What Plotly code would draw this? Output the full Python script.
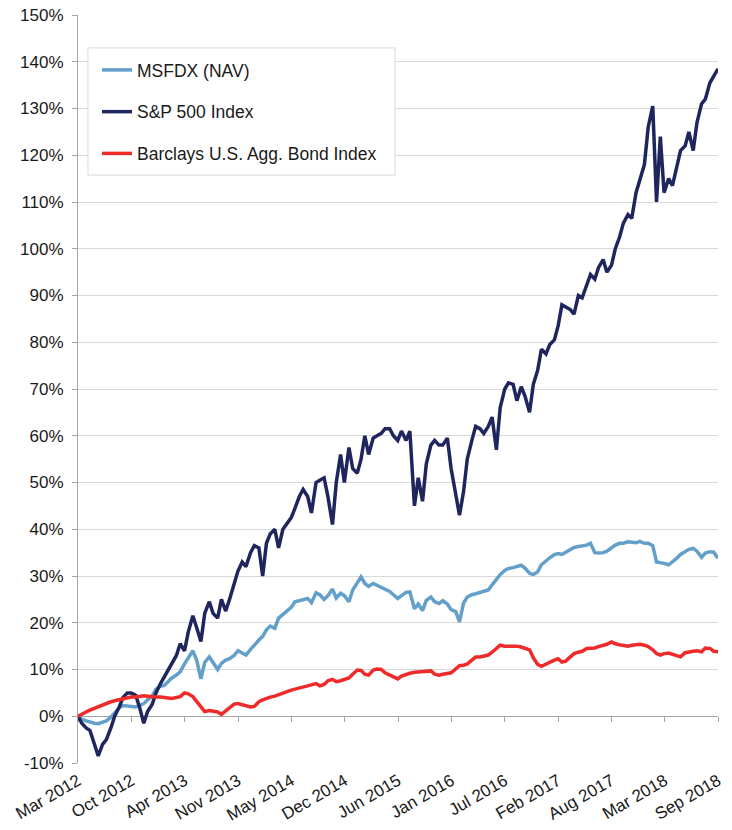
import pandas as pd
import plotly.graph_objects as go

# ---- data (cumulative return, %), semi-monthly observations ----
start_date = "2012-04-01"
n_points = 157
dates = pd.date_range(start_date, periods=n_points, freq="SMS")

msfdx = [
    0, -0.6, -1.0, -1.3, -1.5, -1.6, -1.3, -1.0, -0.2, 0.8,
    1.8, 2.3, 2.2, 2.0, 2.0, 2.3, 2.7, 3.5, 4.3, 5.8,
    6.4, 6.6, 7.4, 8.2, 8.8, 9.5, 11.2, 12.5, 14.0, 12.0,
    8.0, 11.5, 12.7, 11.5, 10.0, 11.3, 12.0, 12.3, 13.0, 14.0,
    13.5, 13.1, 14.3, 15.3, 16.3, 17.1, 18.5, 19.3, 18.8, 21.0,
    21.8, 22.4, 23.3, 24.5, 24.8, 25.0, 25.2, 24.3, 26.4, 26.0,
    25.0, 25.8, 27.2, 25.3, 26.3, 25.8, 24.5, 27.0, 28.5, 29.8,
    28.4, 27.8, 28.4, 28.0, 27.7, 27.2, 26.7, 26.0, 25.2, 25.8,
    26.5, 26.6, 23.0, 24.0, 22.6, 24.8, 25.5, 24.5, 24.1, 24.7,
    24.0, 22.8, 22.4, 20.2, 24.2, 25.5, 26.0, 26.2, 26.5, 26.7,
    27.0, 28.1, 29.3, 30.3, 31.2, 31.6, 31.8, 32.1, 32.3, 31.7,
    30.6, 30.3, 30.9, 32.4, 33.3, 33.9, 34.6, 34.8, 34.6, 35.1,
    35.7, 36.1, 36.3, 36.4, 36.6, 37.0, 35.0, 34.9, 35.0, 35.3,
    36.0, 36.6, 37.0, 37.0, 37.3, 37.2, 37.1, 37.4, 37.0, 37.0,
    36.5, 33.0, 32.9, 32.7, 32.4, 33.0, 33.8, 34.6, 35.2, 35.7,
    35.9, 35.3, 34.0, 34.9, 35.2, 35.1, 33.8,
]

sp500 = [
    0, -1.5, -2.5, -3.0, -6.0, -8.5, -6.0, -5.0, -2.5, 0.0,
    2.0, 4.0, 5.0, 5.0, 4.5, 2.0, -1.5, 1.0, 2.5, 5.0,
    7.0, 8.5, 10.0, 11.5, 13.0, 15.5, 14.0, 18.0, 21.5, 19.0,
    16.0, 22.0, 24.5, 22.0, 21.0, 25.0, 22.5, 25.0, 28.5, 31.0,
    33.0, 32.0, 35.0, 36.5, 36.0, 30.0, 37.0, 39.0, 40.0, 36.0,
    40.0, 41.0, 42.5, 44.5, 47.0, 48.5, 47.0, 43.5, 50.0, 50.5,
    51.0, 47.0, 41.0, 50.0, 56.0, 50.0, 57.5, 53.0, 52.0, 55.0,
    60.0, 56.0, 59.5, 60.0, 60.5, 61.5, 61.5, 60.0, 59.0, 61.0,
    59.0, 61.0, 45.0, 51.0, 46.0, 54.0, 58.0, 59.0, 58.0, 58.0,
    59.5, 53.0, 47.0, 43.0, 48.0, 55.0, 59.0, 62.0, 61.5, 60.5,
    62.0, 64.0, 57.0, 66.0, 70.0, 71.3, 71.0, 67.5, 70.5, 68.5,
    65.0, 71.0, 74.0, 78.5, 77.5, 79.5, 80.5, 83.5, 88.0, 87.5,
    87.0, 86.0, 90.0, 89.5, 92.0, 94.5, 93.5, 96.0, 97.7, 95.0,
    96.5, 100.0, 102.5, 105.5, 107.3, 106.5, 112.0, 115.0, 118.0, 126.0,
    130.5, 110.0, 124.0, 112.0, 115.0, 113.5, 117.5, 121.0, 122.0, 125.0,
    121.0, 127.0, 131.0, 132.0, 135.5, 137.0, 138.5,
]

barclays = [
    0, 0.5, 0.9, 1.3, 1.7, 2.0, 2.4, 2.8, 3.1, 3.3,
    3.5, 3.8, 4.0, 4.1, 4.1, 4.2, 4.4, 4.3, 4.1, 4.1,
    4.1, 4.0, 3.9, 3.8, 4.0, 4.2, 5.0, 4.8, 4.2, 3.2,
    1.8, 1.0, 1.2, 1.1, 0.9, 0.4, 1.2, 1.8, 2.6, 2.7,
    2.5, 2.2, 2.0, 2.1, 3.1, 3.5, 3.9, 4.1, 4.3, 4.6,
    5.1, 5.4, 5.6, 5.8, 6.0, 6.2, 6.4, 6.7, 7.0, 6.5,
    6.8, 7.6, 7.9, 7.4, 7.6, 7.8, 8.2, 9.0, 9.9, 9.8,
    9.0, 8.8, 9.9, 10.1, 10.0, 9.3, 8.8, 8.3, 8.0, 8.6,
    9.0, 9.2, 9.4, 9.5, 9.5, 9.7, 9.7, 9.0, 8.8, 9.0,
    9.1, 9.3, 10.1, 10.8, 10.9, 11.2, 12.0, 12.7, 12.7, 12.8,
    13.1, 13.7, 14.5, 15.2, 15.0, 15.0, 15.0, 15.0, 14.8, 14.6,
    14.2, 12.5, 11.1, 10.7, 11.2, 11.7, 12.0, 12.3, 11.6, 11.8,
    12.6, 13.4, 13.7, 13.9, 14.5, 14.5, 14.6, 14.9, 15.1, 15.4,
    15.9, 15.5, 15.3, 15.1, 15.0, 15.2, 15.4, 15.4, 15.2, 14.9,
    14.2, 13.4, 13.1, 13.4, 13.5, 13.3, 13.0, 12.7, 13.6, 13.8,
    13.9, 14.0, 13.8, 14.6, 14.5, 13.9, 13.8,
]

series_names = ["MSFDX (NAV)", "S&P 500 Index", "Barclays U.S. Agg. Bond Index"]
series_colors = ["#629fc9", "#1f265e", "#ee2a2a"]

x_tick_labels = ["Mar 2012", "Oct 2012", "Apr 2013", "Nov 2013", "May 2014",
                 "Dec 2014", "Jun 2015", "Jan 2016", "Jul 2016", "Feb 2017",
                 "Aug 2017", "Mar 2018", "Sep 2018"]
x_tick_dates = pd.date_range(dates[0], dates[-1], periods=len(x_tick_labels))

y_tick_values = list(range(-10, 151, 10))
y_tick_labels = [f"{v}%" for v in y_tick_values]

# ---- figure ----
fig = go.Figure()
all_series = [msfdx, sp500, barclays]
for i, (name, vals, col) in enumerate(zip(series_names, all_series, series_colors)):
    fig.add_trace(go.Scatter(
        x=dates, y=vals, name=name, mode="lines",
        line=dict(color=col, width=3.5),
        legendgroup=f"g{i}",
        xaxis="x2" if i == 2 else "x",
        hoverinfo="skip",
    ))

x_range = [dates[0], dates[-1]]
axis_grey = "#a6a6a6"

# legend frame (white box with light grey border)
fig.add_shape(type="rect", xref="paper", yref="paper",
              x0=0.0156, x1=0.4953, y0=0.786, y1=0.956,
              line=dict(color="#d9d9d9", width=1), fillcolor="white", layer="above")

fig.update_layout(
    width=732, height=830,
    margin=dict(l=78, r=14, t=15, b=67, autoexpand=False),
    plot_bgcolor="white", paper_bgcolor="white",
    font=dict(family="Liberation Sans, Arial, sans-serif", size=17, color="#1a1a1a"),
    legend=dict(
        x=0.0297, y=0.9505, xanchor="left", yanchor="top",
        borderwidth=0, bgcolor="rgba(0,0,0,0)",
        font=dict(size=17.5), tracegroupgap=16, itemwidth=30,
    ),
    xaxis=dict(
        type="date", range=x_range, tickmode="array", automargin=False,
        tickvals=x_tick_dates, ticktext=x_tick_labels, tickangle=-30,
        ticks="", showgrid=False, zeroline=False, showline=False,
        ticklabelstandoff=4,
    ),
    xaxis2=dict(
        type="date", range=x_range, overlaying="x", anchor="free", position=0.0625,
        tickmode="array", tickvals=x_tick_dates, ticks="outside", ticklen=5,
        tickcolor=axis_grey, showticklabels=False, showline=True, automargin=False,
        linecolor=axis_grey, showgrid=False, zeroline=False, layer="below traces",
    ),
    yaxis=dict(
        range=[-10, 150], tickmode="array", tickvals=y_tick_values, automargin=False,
        ticktext=y_tick_labels, showgrid=True, gridcolor="#d9d9d9",
        zeroline=False, showline=True, linecolor=axis_grey,
        ticks="outside", ticklen=5, tickcolor=axis_grey, layer="below traces",
        ticklabelstandoff=5,
    ),
)

fig.write_html("out.html", config={"displayModeBar": False},
               post_script="document.body.style.margin='0';")
